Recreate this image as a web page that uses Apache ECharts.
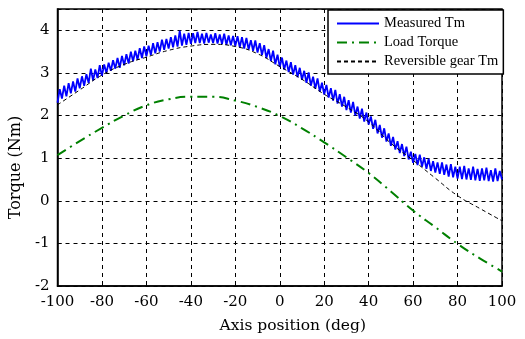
<!DOCTYPE html>
<html><head><meta charset="utf-8">
<script src="https://cdn.jsdelivr.net/npm/echarts@6/dist/echarts.min.js"></script>
<style>html,body{margin:0;padding:0;background:#fff}#c{width:525px;height:339px}</style>
</head><body><div id="c"></div>
<script>
// Axis positions (deg)
const xCoarse = [-100,-90,-80,-70,-60,-50,-40,-30,-20,-10,0,10,20,30,40,50,60,70,80,90,100];
// Reversible gear Tm (Nm)
const reversibleTm = [2.25,2.6,2.95,3.2,3.37,3.53,3.63,3.67,3.62,3.45,3.15,2.85,2.5,2.2,1.85,1.35,0.95,0.53,0.12,-0.18,-0.47];
// Load torque (Nm)
const loadTorque = [1.07,1.4,1.71,2.0,2.24,2.38,2.44,2.44,2.35,2.2,1.99,1.7,1.37,1.02,0.65,0.22,-0.23,-0.62,-1.01,-1.35,-1.66];
// Measured Tm (Nm), one sample per degree from -100 to 100
const xFine = Array.from({length: 201}, (_, i) => i - 100);
const measuredTm = [
2.30,2.62,2.40,2.70,2.45,2.76,2.52,2.80,2.56,2.87,
2.64,2.92,2.70,2.97,2.76,3.10,2.82,3.08,2.88,3.18,
2.93,3.20,3.00,3.24,3.05,3.30,3.10,3.35,3.12,3.40,
3.18,3.44,3.22,3.50,3.27,3.52,3.31,3.58,3.35,3.62,
3.39,3.64,3.42,3.70,3.46,3.72,3.50,3.78,3.54,3.80,
3.57,3.84,3.60,3.88,3.62,3.99,3.64,3.92,3.66,3.94,
3.68,3.93,3.70,3.96,3.70,3.92,3.69,3.94,3.71,3.90,
3.70,3.93,3.69,3.90,3.68,3.92,3.66,3.88,3.65,3.87,
3.63,3.86,3.60,3.84,3.57,3.82,3.55,3.77,3.52,3.76,
3.48,3.70,3.42,3.65,3.35,3.56,3.28,3.52,3.20,3.43,
3.14,3.36,3.08,3.29,3.02,3.25,2.96,3.18,2.90,3.12,
2.84,3.05,2.77,3.01,2.70,2.91,2.63,2.87,2.56,2.77,
2.49,2.72,2.42,2.64,2.35,2.60,2.28,2.50,2.21,2.44,
2.13,2.36,2.07,2.32,2.00,2.21,1.93,2.16,1.86,2.07,
1.79,1.98,1.69,1.90,1.58,1.78,1.48,1.70,1.39,1.58,
1.29,1.50,1.20,1.40,1.12,1.33,1.05,1.27,0.97,1.15,
0.89,1.10,0.84,1.08,0.80,1.02,0.75,0.99,0.70,0.93,
0.66,0.90,0.63,0.90,0.61,0.85,0.57,0.86,0.55,0.80,
0.52,0.80,0.51,0.82,0.50,0.76,0.49,0.80,0.48,0.75,
0.47,0.76,0.48,0.78,0.46,0.72,0.45,0.76,0.46,0.70,
0.50
];
const xTicks = [-100,-80,-60,-40,-20,0,20,40,60,80,100];
const yTicks = [-2,-1,0,1,2,3,4];

const axisFont = 'DejaVu Serif';
const legendFont = 'Liberation Serif';
const chart = echarts.init(document.getElementById('c'), null, {renderer: 'canvas'});
chart.setOption({
  animation: false,
  backgroundColor: '#fff',
  grid: {left: 56, right: 23, top: 9, bottom: 52, show: true, borderColor: '#000', borderWidth: 1.5, backgroundColor: 'transparent'},
  legend: {
    left: 328, top: 10, orient: 'vertical',
    backgroundColor: '#fff', borderColor: '#000', borderWidth: 1.5,
    padding: [5, 5, 4, 8], itemGap: 2, itemWidth: 42, itemHeight: 14,
    itemStyle: {opacity: 0},
    textStyle: {fontFamily: legendFont, fontSize: 14.5, color: '#000', lineHeight: 17},
    data: ['Measured Tm', 'Load Torque', 'Reversible gear Tm']
  },
  xAxis: {
    type: 'value', min: -100, max: 100, interval: 20,
    name: 'Axis position (deg)', nameLocation: 'middle', nameGap: 32,
    nameTextStyle: {fontFamily: axisFont, fontSize: 15.5, color: '#000', padding: [0, 0, 0, 26]},
    axisLine: {show: true, onZero: false, lineStyle: {color: '#000', width: 1.5}},
    axisTick: {show: true, inside: true, length: 4, lineStyle: {color: '#000'}},
    axisLabel: {fontFamily: axisFont, fontSize: 15, color: '#000', margin: 9, formatter: v => xTicks.includes(v) ? String(v) : ''},
    splitLine: {show: true, lineStyle: {color: '#000', type: [4, 4], width: 1}}
  },
  yAxis: {
    type: 'value', min: -2, max: 4.5, interval: 1,
    name: 'Torque (Nm)', nameLocation: 'middle', nameGap: 26,
    nameTextStyle: {fontFamily: axisFont, fontSize: 16, color: '#000', padding: [0, 40, 0, 0]},
    axisLine: {show: true, onZero: false, lineStyle: {color: '#000', width: 1.5}},
    axisTick: {show: true, inside: true, length: 4, lineStyle: {color: '#000'}},
    axisLabel: {fontFamily: axisFont, fontSize: 15, color: '#000', margin: 8, showMaxLabel: false, formatter: v => yTicks.includes(v) ? String(v) : ''},
    splitLine: {show: true, lineStyle: {color: '#000', type: [4, 4], width: 1}}
  },
  series: [
    {name: 'Measured Tm', type: 'line', symbol: 'none', z: 3,
     data: xFine.map((x, i) => [x, measuredTm[i]]),
     lineStyle: {color: '#0000ff', width: 1.8}, itemStyle: {color: '#0000ff'}},
    {name: 'Load Torque', type: 'line', symbol: 'none', smooth: true, z: 2,
     data: xCoarse.map((x, i) => [x, loadTorque[i]]),
     lineStyle: {color: '#008000', width: 2, type: [10, 5, 2, 5]}, itemStyle: {color: '#008000'}},
    {name: 'Reversible gear Tm', type: 'line', symbol: 'none', smooth: true, z: 4,
     data: xCoarse.map((x, i) => [x, reversibleTm[i]]),
     lineStyle: {color: '#000', width: 1, type: [4, 3]}, itemStyle: {color: '#000'}}
  ]
});
</script></body></html>
